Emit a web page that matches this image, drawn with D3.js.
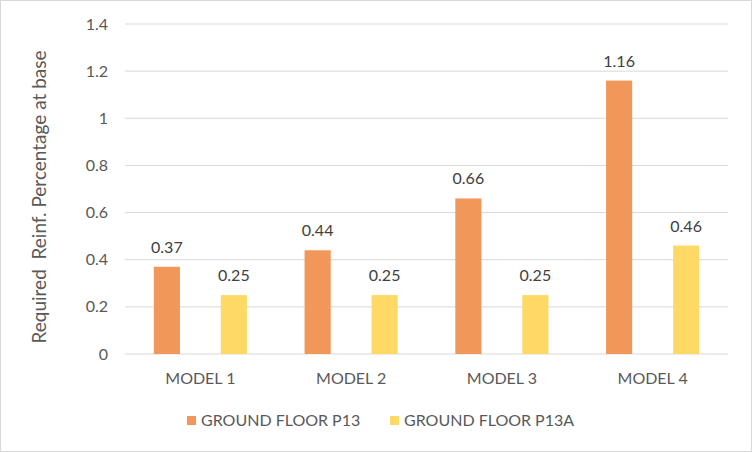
<!DOCTYPE html>
<html>
<head>
<meta charset="utf-8">
<script src="https://cdn.jsdelivr.net/npm/d3@7"></script>
<style>
  body { margin: 0; background: #fff; }
  text { font-family: Lato, "Open Sans", sans-serif; }
</style>
</head>
<body>
<div id="graphic"></div>
<script>
// chart values
var models = ["MODEL 1", "MODEL 2", "MODEL 3", "MODEL 4"];
var seriesNames = ["GROUND FLOOR P13", "GROUND FLOOR P13A"];
var p13 = [0.37, 0.44, 0.66, 1.16];
var p13a = [0.25, 0.25, 0.25, 0.46];
var yTicks = [0, 0.2, 0.4, 0.6, 0.8, 1, 1.2, 1.4];
var colors = ["#F1975A", "#FFD966"];

var W = 752, H = 452;
var margin = { top: 24, right: 24, bottom: 98, left: 125 },
    width = W - margin.left - margin.right,
    height = H - margin.top - margin.bottom;

var svg = d3.select("#graphic").append("svg")
    .attr("width", W)
    .attr("height", H);

// outer chart border
svg.append("rect")
    .attr("x", 0.5).attr("y", 0.5)
    .attr("width", W - 1).attr("height", H - 1)
    .attr("fill", "#fff")
    .attr("stroke", "#d9d9d9");

var g = svg.append("g")
    .attr("transform", "translate(" + margin.left + "," + margin.top + ")");

var x0 = d3.scaleBand().domain(models).range([0, width]).padding(0);
var x1 = d3.scaleBand().domain(seriesNames).range([0, x0.bandwidth()])
    .paddingInner(0.61).paddingOuter(0.43);
var y = d3.scaleLinear().domain([0, 1.4]).range([height, 0]);

// gridlines
g.selectAll(".grid")
    .data(yTicks)
    .enter()
    .append("line")
    .attr("x1", 0).attr("x2", width)
    .attr("y1", function(d) { return y(d); })
    .attr("y2", function(d) { return y(d); })
    .attr("stroke", "#d9d9d9")
    .attr("stroke-width", 1);

// y axis labels
var yAxis = g.append("g")
    .call(d3.axisLeft(y).tickValues(yTicks).tickSize(0).tickPadding(17)
        .tickFormat(function(d) { return String(d); }));
yAxis.select(".domain").remove();
yAxis.selectAll("text")
    .attr("fill", "#595959")
    .style("font-size", "16px");

// x axis labels
var xAxis = g.append("g")
    .attr("transform", "translate(0," + height + ")")
    .call(d3.axisBottom(x0).tickSize(0).tickPadding(19));
xAxis.select(".domain").remove();
xAxis.selectAll("text")
    .attr("fill", "#595959")
    .style("font-size", "16px");

var rows = models.map(function(m, i) {
    return { model: m, values: [
        { name: seriesNames[0], value: p13[i] },
        { name: seriesNames[1], value: p13a[i] }
    ] };
});

var groups = g.selectAll(".model")
    .data(rows)
    .enter()
    .append("g")
    .attr("transform", function(d) { return "translate(" + x0(d.model) + ",0)"; });

groups.selectAll("rect")
    .data(function(d) { return d.values; })
    .enter()
    .append("rect")
    .attr("x", function(d) { return x1(d.name); })
    .attr("y", function(d) { return y(d.value); })
    .attr("width", x1.bandwidth())
    .attr("height", function(d) { return height - y(d.value); })
    .attr("fill", function(d, i) { return colors[i]; });

groups.selectAll(".label")
    .data(function(d) { return d.values; })
    .enter()
    .append("text")
    .attr("x", function(d) { return x1(d.name) + x1.bandwidth() / 2; })
    .attr("y", function(d) { return y(d.value) - 14; })
    .attr("text-anchor", "middle")
    .attr("fill", "#404040")
    .style("font-size", "16px")
    .text(function(d) { return d.value; });

// y axis title (keeps the double space)
svg.append("text")
    .attr("transform", "translate(46," + (margin.top + height / 2 + 8) + ") rotate(-90)")
    .attr("text-anchor", "middle")
    .attr("fill", "#595959")
    .style("font-size", "19px")
    .style("white-space", "pre")
    .text("Required  Reinf. Percentage at base");

// legend
var legendX = [187, 390];
var legend = svg.selectAll(".legend")
    .data(seriesNames)
    .enter()
    .append("g")
    .attr("transform", function(d, i) { return "translate(" + legendX[i] + ",416)"; });
legend.append("rect")
    .attr("width", 9).attr("height", 9)
    .attr("fill", function(d, i) { return colors[i]; });
legend.append("text")
    .attr("x", 14).attr("y", 10)
    .attr("fill", "#595959")
    .style("font-size", "16px")
    .text(function(d) { return d; });
</script>
</body>
</html>
